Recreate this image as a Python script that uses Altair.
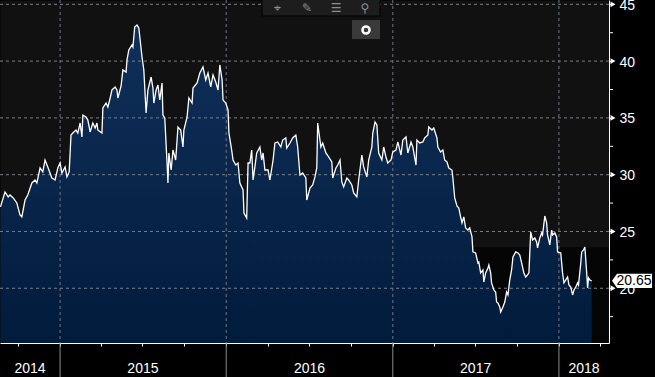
import altair as alt
import pandas as pd

# ---------------- data ----------------
START = "2014-08-22"          # left edge of the plot
END = "2018-04-21"            # right edge of the plot
# day offsets from START and closing prices
days = [1, 11, 18, 22, 29, 37, 44, 48, 55, 61, 70, 77, 81, 88, 94, 99, 105, 114, 121, 127,
        132, 136, 143, 147, 152, 156, 160, 167, 171, 176, 180, 182, 189, 193, 198, 204, 209, 213, 215, 224,
        226, 233, 237, 242, 246, 253, 257, 259, 266, 270, 277, 279, 283, 290, 292, 296, 301, 305, 312, 316,
        321, 325, 332, 336, 338, 343, 347, 351, 356, 358, 362, 367, 369, 371, 376, 380, 386, 391, 397, 402,
        404, 411, 415, 422, 424, 433, 439, 446, 452, 457, 463, 468, 474, 479, 483, 488, 490, 496, 501, 503,
        509, 512, 518, 523, 527, 534, 536, 542, 545, 549, 553, 556, 560, 564, 571, 575, 578, 582, 589, 593,
        600, 604, 610, 617, 621, 628, 630, 637, 643, 650, 654, 659, 665, 672, 674, 681, 687, 692, 696, 698,
        705, 709, 716, 722, 729, 731, 738, 742, 747, 751, 755, 762, 766, 773, 777, 784, 788, 795, 799, 806,
        810, 817, 819, 824, 828, 832, 839, 843, 848, 852, 859, 863, 870, 874, 881, 885, 892, 896, 903, 907,
        914, 916, 922, 929, 933, 940, 942, 949, 953, 960, 962, 968, 973, 977, 982, 986, 993, 995, 999, 1004,
        1008, 1012, 1015, 1019, 1023, 1028, 1032, 1037, 1039, 1045, 1050, 1052, 1056, 1061, 1063, 1067, 1072, 1074, 1078, 1080,
        1085, 1089, 1091, 1094, 1098, 1100, 1105, 1109, 1113, 1116, 1120, 1124, 1127, 1133, 1138, 1142, 1146, 1151, 1155, 1159,
        1162, 1166, 1170, 1175, 1179, 1181, 1186, 1190, 1192, 1197, 1201, 1203, 1208, 1212, 1214, 1219, 1223, 1225, 1232, 1236,
        1239, 1243, 1247, 1250, 1254, 1258, 1261, 1265, 1269, 1271, 1276, 1278, 1282, 1285, 1289, 1291, 1293, 1296, 1300]
prices = [27.16, 28.48, 28.04, 28.21, 27.95, 27.51, 26.45, 26.28, 27.77, 28.21, 29.27, 29.53, 29.27, 30.59, 30.24, 31.29, 30.68, 29.71, 29.53, 30.59,
          31.03, 30.15, 30.68, 29.80, 30.24, 33.49, 33.67, 33.93, 33.67, 34.55, 33.32, 35.25, 35.08, 34.81, 33.76, 34.55, 34.11, 34.55, 33.93, 33.67,
          35.87, 36.31, 35.96, 36.75, 37.46, 37.72, 37.46, 36.75, 37.81, 39.22, 39.04, 40.10, 40.98, 41.42, 41.24, 43.00, 43.18, 42.91, 40.36, 39.22,
          35.43, 37.46, 38.60, 37.63, 36.31, 37.46, 37.90, 36.58, 38.07, 35.25, 34.99, 31.03, 29.27, 31.91, 30.41, 32.17, 31.29, 34.20, 33.93, 32.44,
          33.93, 35.08, 36.75, 36.31, 37.63, 38.07, 38.95, 39.48, 38.34, 38.95, 37.72, 38.78, 38.16, 37.46, 39.66, 38.34, 36.58, 36.31, 35.70, 33.67,
          32.17, 31.29, 30.85, 31.03, 29.27, 28.65, 26.63, 26.19, 31.03, 31.03, 32.17, 29.53, 30.68, 31.91, 32.44, 31.29, 31.91, 30.41, 30.41, 29.53,
          31.29, 32.79, 32.88, 32.44, 33.05, 33.23, 32.35, 32.79, 33.23, 33.49, 32.44, 29.97, 30.15, 29.71, 27.77, 28.83, 29.09, 29.80, 30.59, 34.55,
          32.44, 32.79, 31.91, 31.56, 31.12, 29.71, 30.59, 30.85, 31.29, 29.36, 28.92, 29.71, 29.53, 29.09, 28.39, 28.04, 29.53, 31.73, 30.68, 29.80,
          31.29, 32.44, 33.67, 34.64, 34.38, 31.91, 31.29, 32.44, 31.56, 31.03, 31.29, 32.00, 32.17, 32.88, 31.73, 33.05, 33.32, 31.91, 32.88, 32.44,
          30.85, 33.05, 32.79, 32.88, 33.23, 33.49, 34.20, 33.93, 34.11, 33.23, 32.44, 32.00, 32.17, 31.29, 31.12, 30.59, 30.41, 29.71, 27.95, 27.24,
          27.07, 26.28, 25.75, 26.28, 25.31, 25.13, 25.31, 24.52, 23.20, 23.11, 22.23, 22.31, 21.35, 21.61, 20.55, 21.35, 21.79, 22.05, 21.35, 20.47,
          19.85, 19.67, 18.79, 18.71, 18.35, 17.91, 18.35, 18.79, 19.67, 19.41, 20.73, 21.61, 22.75, 23.20, 23.11, 22.93, 22.23, 21.35, 20.99, 21.17,
          21.35, 24.96, 24.25, 24.43, 24.08, 23.55, 24.43, 24.87, 24.69, 26.36, 25.75, 24.69, 23.81, 25.13, 24.69, 24.87, 24.52, 23.20, 23.11, 21.35,
          20.47, 20.73, 20.99, 20.29, 20.11, 19.41, 19.85, 20.11, 20.47, 20.29, 22.23, 23.20, 23.37, 23.63, 21.35, 20.03, 20.91, 20.73, 20.65]

year_starts = ["2015-01-01", "2016-01-01", "2017-01-01", "2018-01-01"]
year_labels = ["2014", "2015", "2016", "2017", "2018"]
year_label_at = ["2014-10-27", "2015-07-02", "2016-07-02", "2017-07-02", "2018-02-25"]
quarter_ticks = ["2014-10-01", "2015-01-01", "2015-04-01", "2015-07-01", "2015-10-01",
                 "2016-01-01", "2016-04-01", "2016-07-01", "2016-10-01",
                 "2017-01-01", "2017-04-01", "2017-07-01", "2017-10-01",
                 "2018-01-01", "2018-04-01"]
y_labels = [20, 25, 30, 35, 40, 45]
y_minor = [17.5, 22.5, 27.5, 32.5, 37.5, 42.5]
Y_MIN, Y_MAX = 15.18, 45.38
last_value = 20.65
last_label = "20.65"
shade_from = "2017-06-26"
shade_to = "2018-04-20"
shade_top = 23.6
toolbar_icons = ["⌖", "✎", "☰", "⚲"]

FONT = "Liberation Sans Narrow, Liberation Sans, Arial"


def dt(s):
    y, m, d = (int(p) for p in s.split("-"))
    return alt.DateTime(year=y, month=m, date=d)


df = pd.DataFrame({
    "date": pd.Timestamp(START) + pd.to_timedelta(days, unit="D"),
    "value": prices,
})
years_df = pd.DataFrame({"date": pd.to_datetime(year_starts)})
labels_df = pd.DataFrame({"date": pd.to_datetime(year_label_at), "label": year_labels})
ygrid_df = pd.DataFrame({"value": y_labels})
yminor_df = pd.DataFrame({"value": y_minor})
shade_df = pd.DataFrame({"date": pd.to_datetime([shade_from]), "date2": pd.to_datetime([shade_to]),
                         "value": [Y_MIN], "value2": [shade_top]})
last_df = pd.DataFrame({"value": [last_value], "label": [last_label]})
one = pd.DataFrame({"k": [0]})

xs = alt.Scale(domain=[dt(START), dt(END)])
ys = alt.Scale(domain=[Y_MIN, Y_MAX], nice=False, zero=False)

x_axis = alt.Axis(values=[dt(q) for q in quarter_ticks], labels=False, tickSize=3,
                  tickColor="white", domainColor="white", domainWidth=1, grid=False, title=None)
y_axis = alt.Axis(orient="right", values=y_labels, format="d",
                  tickSize=4, tickColor="white", domainColor="white", domainWidth=1,
                  labelColor="white", labelFont=FONT, labelFontSize=14, labelPadding=6,
                  labelBaseline="middle", labelOffset=1, labelOverlap=False, labelBound=False,
                  grid=False, title=None)

X = alt.X("date:T", scale=xs, axis=x_axis)
Y = alt.Y("value:Q", scale=ys, axis=y_axis)

gradient = alt.Gradient(gradient="linear",
                        stops=[alt.GradientStop(color="#10305a", offset=0),
                               alt.GradientStop(color="#011b3b", offset=1)],
                        x1=1, x2=1, y1=0, y2=1)

shade = alt.Chart(shade_df).mark_rect(color="#050505").encode(
    x=X, x2="date2:T", y=Y, y2="value2:Q")

area = alt.Chart(df).mark_area(color=gradient, clip=True).encode(
    x=alt.X("date:T", scale=xs), y=alt.Y("value:Q", scale=ys), y2=alt.datum(Y_MIN))

hgrid = alt.Chart(ygrid_df).mark_rule(color="#7a7f88", strokeDash=[3, 3], strokeWidth=1).encode(
    y=alt.Y("value:Q", scale=ys))
vgrid = alt.Chart(years_df).mark_rule(color="#6f7682", strokeDash=[3, 3], strokeWidth=1).encode(
    x=alt.X("date:T", scale=xs))

line = alt.Chart(df).mark_line(color="white", strokeWidth=1.3).encode(
    x=alt.X("date:T", scale=xs), y=alt.Y("value:Q", scale=ys))

separators = alt.Chart(years_df).mark_rule(color="#8c8c8c", strokeWidth=1).encode(
    x=alt.X("date:T", scale=xs), y=alt.value(343), y2=alt.value(377))

year_text = alt.Chart(labels_df).mark_text(color="white", font=FONT, fontSize=14,
                                           align="center", baseline="middle").encode(
    x=alt.X("date:T", scale=xs), y=alt.value(369), text="label:N")

minor_ticks = alt.Chart(yminor_df).mark_rule(color="white", strokeWidth=1).encode(
    x=alt.value(609), x2=alt.value(613), y=alt.Y("value:Q", scale=ys))

triangles = alt.Chart(ygrid_df).mark_point(shape="triangle-right", filled=True, color="white",
                                           size=34, opacity=1).encode(
    x=alt.value(613), y=alt.Y("value:Q", scale=ys))

box_path = "M-1,0L-0.75,-0.36L1,-0.36L1,0.36L-0.75,0.36Z"
last_box = alt.Chart(last_df).mark_point(shape=box_path, filled=True, color="white",
                                         size=1600, opacity=1).encode(
    x=alt.value(632), y=alt.Y("value:Q", scale=ys))
last_text = alt.Chart(last_df).mark_text(color="black", font=FONT, fontSize=14,
                                         align="center", baseline="middle").encode(
    x=alt.value(634), y=alt.Y("value:Q", scale=ys), text="label:N")

toolbar = alt.Chart(one).mark_rect(fill="#1d1d1d", stroke="#000000", strokeWidth=1).encode(
    x=alt.value(262), x2=alt.value(380), y=alt.value(-1), y2=alt.value(16))
button = alt.Chart(one).mark_rect(fill="#3a3a3a").encode(
    x=alt.value(352), x2=alt.value(380), y=alt.value(20), y2=alt.value(39))
ring = alt.Chart(one).mark_point(shape="circle", filled=False, color="white",
                                 strokeWidth=2.5, size=50, opacity=1).encode(
    x=alt.value(366), y=alt.value(30))
icon_layers = []
for icon, px in zip(toolbar_icons, [277, 307, 336, 365]):
    icon_layers.append(
        alt.Chart(one).mark_text(text=icon, color="#8f8f8f", fontSize=12, font="DejaVu Sans",
                                 align="center", baseline="middle").encode(
            x=alt.value(px), y=alt.value(8)))

chart = alt.layer(
    shade, area, hgrid, vgrid, line, separators, year_text, minor_ticks,
    triangles, last_box, last_text, toolbar, button, ring, *icon_layers
).properties(
    width=609, height=343, autosize="none",
    padding={"left": 0, "top": 0, "right": 46, "bottom": 34},
    background="#000000",
).configure_view(fill="#111111", stroke="transparent")

chart.save("out.html", embed_options={"renderer": "svg", "actions": False})
